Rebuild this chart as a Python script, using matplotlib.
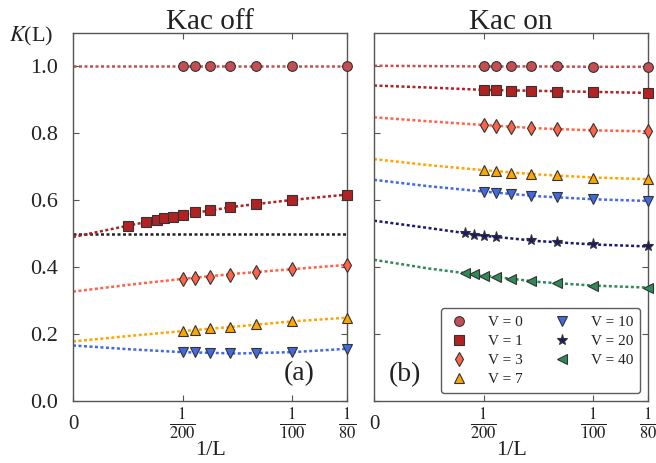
import matplotlib
matplotlib.use("Agg")
import matplotlib.pyplot as plt

plt.rcParams['font.family'] = ['Liberation Serif', 'DejaVu Serif']
plt.rcParams['mathtext.fontset'] = 'stix'

# data (x = 1/L)
L_std = [200, 180, 160, 140, 120, 100, 80]
L_v1_off = [400, 300, 260, 240, 220, 200, 180, 160, 140, 120, 100, 80]
L_v20_on = [240, 220, 200, 180, 140, 120, 100, 80]
L_v40_on = [240, 220, 200, 180, 160, 140, 120, 100, 80]

labels = ["V = 0", "V = 1", "V = 3", "V = 7", "V = 10", "V = 20", "V = 40"]
colors = ["#c44e52", "#b22222", "#ff6347", "#ffa500", "#4169e1", "#191970", "#2e8b57"]
markers = ["o", "s", "d", "^", "v", "*", "<"]
msizes = [7, 7, 7.5, 7, 7, 8, 7.5]

# Kac off
off_v0 = [1.0, 1.0, 1.0, 1.0, 1.0, 1.0, 1.0]
off_v1 = [0.524, 0.536, 0.542, 0.546, 0.551, 0.557, 0.564, 0.570, 0.579, 0.589, 0.601, 0.617]
off_v3 = [0.365, 0.367, 0.372, 0.378, 0.385, 0.394, 0.407]
off_v7 = [0.209, 0.213, 0.217, 0.221, 0.229, 0.239, 0.249]
off_v10 = [0.146, 0.145, 0.143, 0.142, 0.143, 0.146, 0.156]

# Kac on
on_v0 = [1.0, 1.0, 1.0, 1.0, 1.0, 0.999, 0.999]
on_v1 = [0.930, 0.930, 0.928, 0.927, 0.925, 0.924, 0.921]
on_v3 = [0.825, 0.822, 0.819, 0.816, 0.812, 0.809, 0.806]
on_v7 = [0.690, 0.687, 0.683, 0.679, 0.675, 0.668, 0.663]
on_v10 = [0.626, 0.622, 0.619, 0.614, 0.609, 0.603, 0.598]
on_v20 = [0.501, 0.497, 0.494, 0.491, 0.480, 0.474, 0.468, 0.462]
on_v40 = [0.382, 0.379, 0.375, 0.370, 0.364, 0.358, 0.352, 0.345, 0.339]

# fitted curves, read at these 1/L positions
fit_x = [0.0, 0.0025, 0.005, 0.0075, 0.01, 0.0125]
fit_off = [
    [1.0, 1.0, 1.0, 1.0, 1.0, 1.0],
    [0.490, 0.524, 0.557, 0.582, 0.601, 0.617],
    [0.327, 0.347, 0.365, 0.381, 0.394, 0.407],
    [0.178, 0.194, 0.209, 0.223, 0.238, 0.249],
    [0.166, 0.155, 0.146, 0.142, 0.146, 0.156],
]
fit_on = [
    [1.002, 1.001, 1.0, 1.0, 0.999, 0.999],
    [0.943, 0.937, 0.930, 0.927, 0.924, 0.921],
    [0.848, 0.836, 0.825, 0.815, 0.809, 0.806],
    [0.723, 0.705, 0.690, 0.677, 0.668, 0.663],
    [0.661, 0.642, 0.626, 0.612, 0.603, 0.598],
    [0.539, 0.517, 0.494, 0.478, 0.468, 0.462],
    [0.422, 0.396, 0.375, 0.356, 0.345, 0.339],
]
k_free = 0.5

xticks = [0, 1 / 200, 1 / 100, 1 / 80]
xticklabels = ["0", r"$\frac{1}{200}$", r"$\frac{1}{100}$", r"$\frac{1}{80}$"]
yticks = [0.0, 0.2, 0.4, 0.6, 0.8, 1.0]


def inv(Ls):
    return [1.0 / n for n in Ls]


def style_axes(ax, title):
    ax.set_xlim(0, 0.0125)
    ax.set_ylim(0, 1.1)
    for sp in ax.spines.values():
        sp.set_color("#555555")
        sp.set_linewidth(1.0)
    ax.set_xticks(xticks)
    ax.set_xticklabels(xticklabels)
    ax.set_yticks(yticks)
    ax.tick_params(direction="in", top=True, right=True, length=4, width=0.8,
                   color="#555555", labelcolor="#222222")
    ax.tick_params(axis="x", pad=17)
    ax.tick_params(axis="y", pad=11, labelsize=16)
    for i, lab in enumerate(ax.get_xticklabels()):
        lab.set_va("center")
        lab.set_fontsize(15 if i == 0 else 17)
    ax.set_title(title, fontsize=21, pad=3, color="#222222")
    ax.set_xlabel("1/L", fontsize=16, color="#222222", va="center")
    ax.xaxis.set_label_coords(0.5, -0.135)


def draw(ax, i, xs, ys, fit, label=None):
    ax.plot(fit_x, fit, color=colors[i], lw=1.8, dashes=(1.2, 1.0), zorder=2)
    ax.plot(xs, ys, linestyle="none", marker=markers[i], ms=msizes[i],
            mfc=colors[i], mec="#333333", mew=0.8, zorder=3, label=label,
            clip_on=False)


fig = plt.figure(figsize=(6.56, 4.63), dpi=100)
ax1 = fig.add_axes([73 / 656, 1 - 401 / 463, 274 / 656, 368 / 463])
ax2 = fig.add_axes([374 / 656, 1 - 401 / 463, 274 / 656, 368 / 463])

# left panel: Kac off
ax1.plot([0, 0.0125], [k_free, k_free], color="#222222", lw=1.8, dashes=(1.2, 1.0), zorder=2)
draw(ax1, 0, inv(L_std), off_v0, fit_off[0])
draw(ax1, 1, inv(L_v1_off), off_v1, fit_off[1])
draw(ax1, 2, inv(L_std), off_v3, fit_off[2])
draw(ax1, 3, inv(L_std), off_v7, fit_off[3])
draw(ax1, 4, inv(L_std), off_v10, fit_off[4])
style_axes(ax1, "Kac off")
ax1.text(0.826, 0.075, "(a)", transform=ax1.transAxes, fontsize=20,
         ha="center", va="center", color="#222222")

# right panel: Kac on
on_x = [inv(L_std)] * 5 + [inv(L_v20_on), inv(L_v40_on)]
on_y = [on_v0, on_v1, on_v3, on_v7, on_v10, on_v20, on_v40]
for i in range(7):
    draw(ax2, i, on_x[i], on_y[i], fit_on[i], label=labels[i])
style_axes(ax2, "Kac on")
ax2.set_yticklabels([])
ax2.text(0.112, 0.073, "(b)", transform=ax2.transAxes, fontsize=20,
         ha="center", va="center", color="#222222")

leg = ax2.legend(loc="lower right", bbox_to_anchor=(0.972, 0.022), ncol=2,
                 fontsize=11, frameon=True, fancybox=True, borderaxespad=0,
                 handlelength=1.4, handletextpad=1.2, columnspacing=1.9,
                 labelspacing=0.35, borderpad=0.45, numpoints=1)
leg.get_frame().set_edgecolor("#333333")
leg.get_frame().set_linewidth(1.0)
for t in leg.get_texts():
    t.set_color("#222222")

fig.text(31 / 656, 1 - 41 / 463, r"$K$(L)", fontsize=16, ha="center",
         va="baseline", color="#222222")

fig.savefig("out.png", dpi=100)
